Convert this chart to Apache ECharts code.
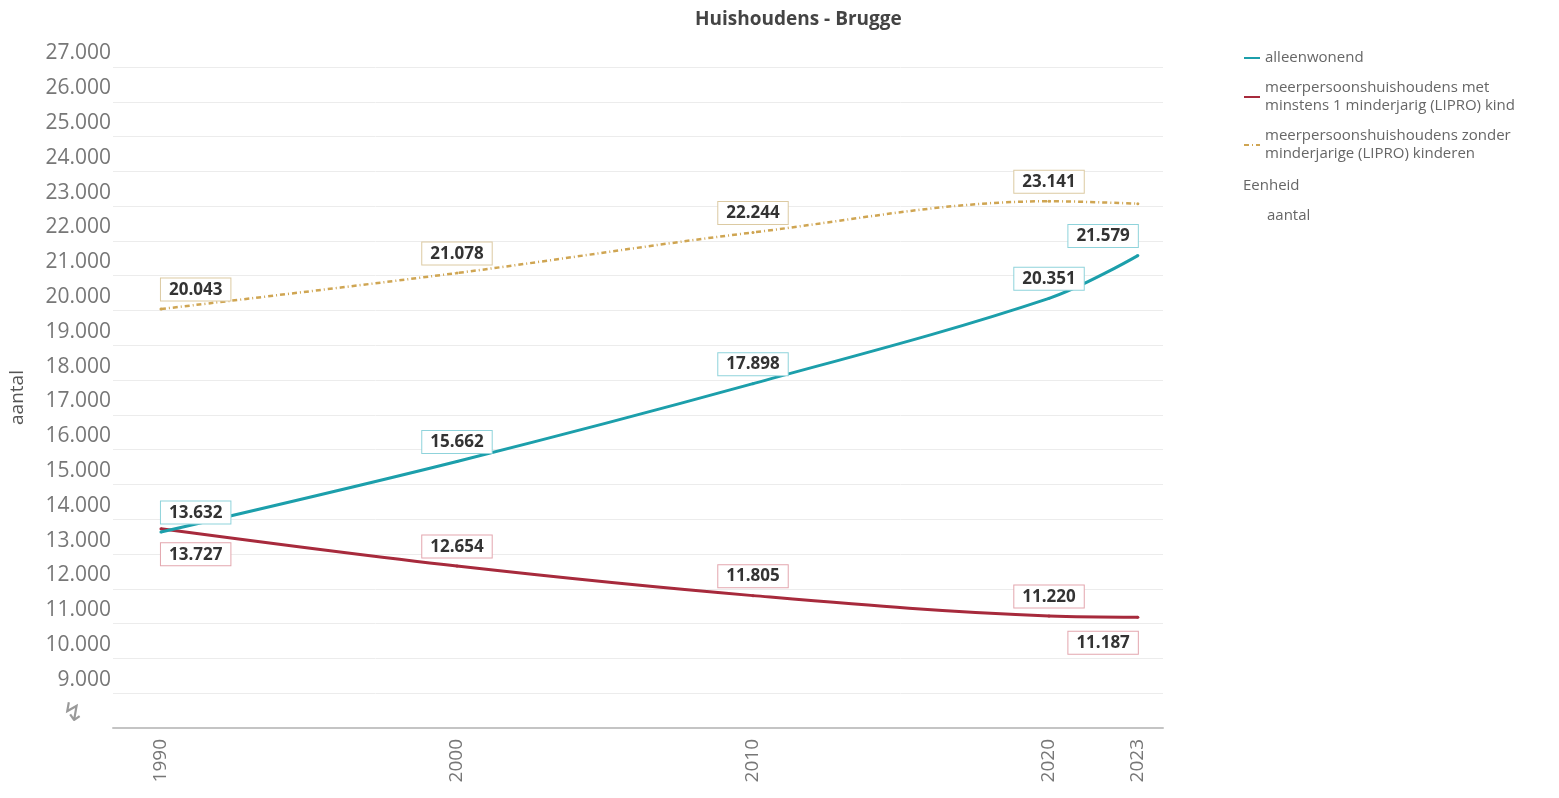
<!DOCTYPE html>
<html>
<head>
<meta charset="utf-8">
<title>Huishoudens - Brugge</title>
<script src="https://cdn.jsdelivr.net/npm/echarts@6/dist/echarts.min.js"></script>
<style>
	html, body { margin: 0; padding: 0; background: #fff; }
	#chart { width: 1559px; height: 798px; }
</style>
</head>
<body>
<div id="chart"></div>
<script>
// jaren op de x-as
var years = [1990, 2000, 2010, 2020, 2023];
// aantal huishoudens per type
var alleenwonend = [13632, 15662, 17898, 20351, 21579];
var metKind = [13727, 12654, 11805, 11220, 11187];
var zonderKind = [20043, 21078, 22244, 23141, 23070];
// legende-namen
var seriesNames = [
	'alleenwonend',
	'meerpersoonshuishoudens met\nminstens 1 minderjarig (LIPRO) kind',
	'meerpersoonshuishoudens zonder\nminderjarige (LIPRO) kinderen'
];

function fmt(v) { // 13632 -> 13.632
	return String(v).replace(/\B(?=(\d{3})+(?!\d))/g, '.');
}

// label boven/onder het punt, eerste links uitgelijnd, laatste rechts
function makeData(values, below, hideLast) {
	var ret = [];
	for (var i = 0; i < values.length; i++) {
		var lab = {
			position: below.indexOf(i) != -1 ? 'bottom' : 'top',
			distance: below.indexOf(i) != -1 ? 13 : 7,
		};
		if (i == 0) lab.align = 'left';
		if (i == values.length - 1) lab.align = 'right';
		if (hideLast && i == values.length - 1) lab.show = false;
		ret.push({ value: [years[i], values[i]], label: lab });
	}
	return ret;
}

function labelStyle(border) {
	return {
		show: true,
		formatter: function(p) { return fmt(p.value[1]); },
		fontFamily: 'Open Sans',
		fontWeight: 'bold',
		fontSize: 17,
		color: '#333',
		backgroundColor: '#fff',
		borderColor: border,
		borderWidth: 1,
		padding: [3, 8, 2, 8],
	};
}

var myChart = echarts.init(document.getElementById('chart'));
var option = {
	animation: false,
	textStyle: { fontFamily: 'Open Sans' },
	title: [{
		text: 'Huishoudens - Brugge',
		left: 690,
		top: 5,
		textStyle: { fontSize: 19, fontWeight: 'bold', color: '#444', fontFamily: 'Open Sans' },
	}, {
		text: 'Eenheid',
		left: 1238,
		top: 173,
		textStyle: { fontSize: 15, fontWeight: 'normal', color: '#666', fontFamily: 'Open Sans' },
	}, {
		text: 'aantal',
		left: 1262,
		top: 203,
		textStyle: { fontSize: 15, fontWeight: 'normal', color: '#666', fontFamily: 'Open Sans' },
	}],
	legend: {
		orient: 'vertical',
		left: 1238,
		top: 44,
		itemWidth: 16,
		itemHeight: 8,
		itemGap: 12,
		itemStyle: { opacity: 0 },
		textStyle: { fontSize: 15, color: '#666', lineHeight: 18 },
		data: seriesNames,
	},
	grid: {
		left: 112,
		right: 396,
		top: 67,
		bottom: 70,
	},
	xAxis: {
		type: 'value',
		min: 1988.38,
		max: 2023.85,
		splitLine: { show: false },
		axisLine: { lineStyle: { color: '#c4c4c4', width: 2 } },
		axisTick: { show: false },
		axisLabel: {
			customValues: years,
			rotate: 90,
			margin: 11,
			fontSize: 19,
			color: '#777',
			formatter: function(v) { return String(v); },
		},
	},
	yAxis: {
		type: 'value',
		name: 'aantal',
		nameLocation: 'middle',
		nameGap: 86,
		nameTextStyle: { fontSize: 19, color: '#555' },
		min: 8000,
		max: 27000,
		interval: 1000,
		axisLine: { show: false },
		axisTick: { show: false },
		splitLine: { lineStyle: { color: '#ececec', width: 1 } },
		axisLabel: {
			margin: 2,
			fontSize: 21,
			color: '#777',
			verticalAlign: 'bottom',
			lineHeight: 21,
			padding: [0, 0, 3, 0],
			formatter: function(v) {
				if (v == 8000) return '{b|↯}     ';
				return fmt(v);
			},
			rich: {
				b: { fontSize: 26, color: '#9a9a9a', fontFamily: 'DejaVu Sans' },
			},
		},
	},
	series: [{
		name: seriesNames[0],
		type: 'line',
		smooth: 0.35,
		symbol: 'circle',
		symbolSize: 3,
		itemStyle: { color: '#1c9fab' },
		lineStyle: { color: '#1c9fab', width: 3 },
		label: labelStyle('#8fd3db'),
		data: makeData(alleenwonend, [], false),
		z: 3,
	}, {
		name: seriesNames[1],
		type: 'line',
		smooth: 0.35,
		symbol: 'circle',
		symbolSize: 3,
		itemStyle: { color: '#a72a3c' },
		lineStyle: { color: '#a72a3c', width: 3 },
		label: labelStyle('#e3a6ae'),
		data: makeData(metKind, [0, 4], false),
		z: 2,
	}, {
		name: seriesNames[2],
		type: 'line',
		smooth: 0.35,
		symbol: 'circle',
		symbolSize: 3,
		itemStyle: { color: '#cfa552' },
		lineStyle: { color: '#cfa552', width: 2.5, type: [5, 3, 1, 3] },
		label: labelStyle('#dccaa2'),
		data: makeData(zonderKind, [], true),
		z: 2,
	}]
};
myChart.setOption(option);
</script>
</body>
</html>
